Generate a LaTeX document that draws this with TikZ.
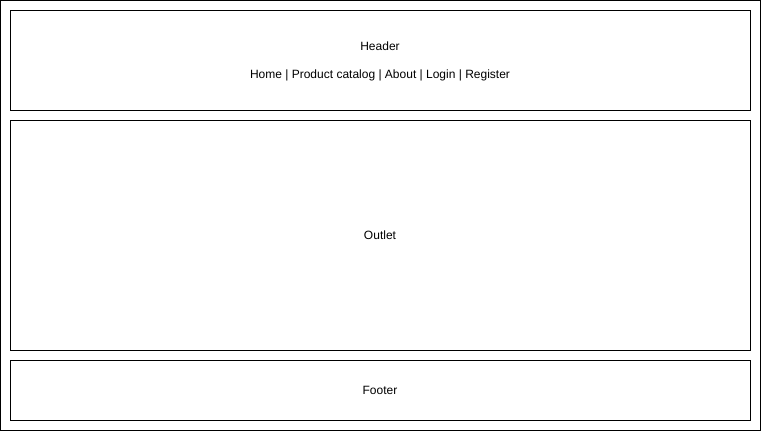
\documentclass[tikz,border=0pt]{standalone}
\usepackage{fontspec}
\setmainfont{Liberation Sans}
\begin{document}
\begin{tikzpicture}[x=1pt,y=-1pt,
  frame/.style={draw=black,line width=1pt},
  lbl/.style={font=\fontsize{12}{14}\selectfont,inner sep=0pt,anchor=center}]
\useasboundingbox (0,0) rectangle (761,431);
\fill[white] (0,0) rectangle (761,431);
\draw[frame] (0.5,0.5) rectangle (760.5,430.5);
\draw[frame] (10.5,10.5) rectangle (750.5,110.5);
\draw[frame] (10.5,120.5) rectangle (750.5,350.5);
\draw[frame] (10.5,360.5) rectangle (750.5,420.5);
\node[lbl] (header) at (380,46.5) {Header};
\node[lbl] (nav) at (380,75.5) {Home | Product catalog | About | Login | Register};
\node[lbl] (outlet) at (380,235.5) {Outlet};
\node[lbl] (footer) at (380,390.5) {Footer};
\end{tikzpicture}
\end{document}
